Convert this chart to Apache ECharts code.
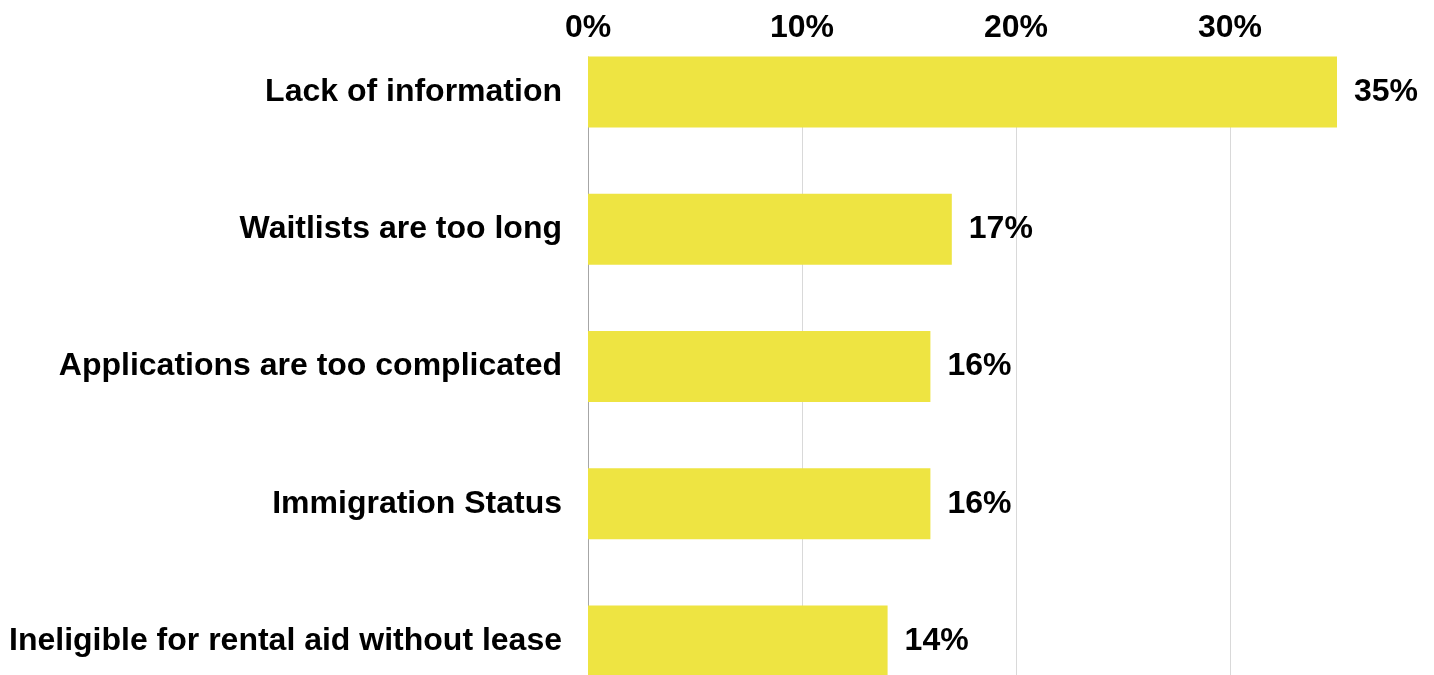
<!DOCTYPE html>
<html>
<head>
<meta charset="utf-8">
<script src="https://cdn.jsdelivr.net/npm/echarts@6/dist/echarts.min.js"></script>
<style>
  html, body { margin: 0; padding: 0; background: #fff; }
  #main { width: 1434px; height: 675px; }
</style>
</head>
<body>
<div id="main"></div>
<script>
var categories = [
    'Lack of information',
    'Waitlists are too long',
    'Applications are too complicated',
    'Immigration Status',
    'Ineligible for rental aid without lease'
];
var shares = [35, 17, 16, 16, 14];
var xTicks = [0, 10, 20, 30];
var xMax = 35;

var font = '"Liberation Sans", Arial, sans-serif';
var barColor = '#EEE442';

var myChart = echarts.init(document.getElementById('main'));
// grid 0 only carries the gridlines and axis line, grid 1 holds the bars
myChart.setOption({
    animation: false,
    grid: [
        { left: 588, width: 749, top: 57, bottom: 0 },
        { left: 588, width: 749, top: 92, bottom: 34 }
    ],
    xAxis: [{
        gridIndex: 0,
        type: 'value',
        position: 'top',
        min: xTicks[0],
        max: xMax,
        interval: xTicks[1] - xTicks[0],
        axisLine: { show: false },
        axisTick: { show: false },
        axisLabel: {
            formatter: '{value}%',
            showMaxLabel: false,
            margin: 13,
            color: '#000',
            fontSize: 32,
            fontWeight: 'bold',
            fontFamily: font
        },
        splitLine: { showMaxLine: false, lineStyle: { color: '#d9d9d9', width: 1 } }
    }, {
        gridIndex: 1,
        type: 'value',
        min: xTicks[0],
        max: xMax,
        show: false
    }],
    yAxis: [{
        gridIndex: 0,
        type: 'value',
        min: 0,
        max: 1,
        axisLine: { show: true, lineStyle: { color: '#a6a6a6', width: 1 } },
        axisTick: { show: false },
        axisLabel: { show: false },
        splitLine: { show: false }
    }, {
        gridIndex: 1,
        type: 'category',
        inverse: true,
        boundaryGap: false,
        data: categories,
        axisLine: { show: false },
        axisTick: { show: false },
        axisLabel: {
            margin: 26,
            color: '#000',
            fontSize: 32,
            fontWeight: 'bold',
            fontFamily: font
        }
    }],
    series: [{
        type: 'bar',
        xAxisIndex: 1,
        yAxisIndex: 1,
        data: shares,
        barWidth: 71,
        clip: false,
        itemStyle: { color: barColor },
        label: {
            show: true,
            position: 'right',
            distance: 17,
            formatter: '{c}%',
            color: '#000',
            fontSize: 32,
            fontWeight: 'bold',
            fontFamily: font
        }
    }]
});
</script>
</body>
</html>
